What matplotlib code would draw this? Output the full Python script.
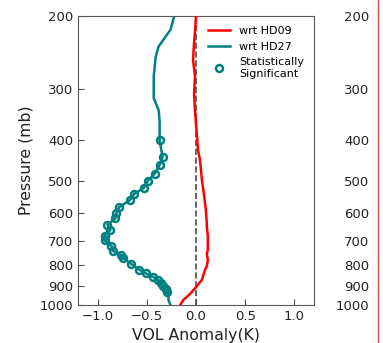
import numpy as np
import matplotlib
matplotlib.use('Agg')
import matplotlib.pyplot as plt
from matplotlib.lines import Line2D
from matplotlib.ticker import FixedLocator, NullLocator, FixedFormatter

# pressure levels (mb) and anomalies
hd09_p = [200, 218, 233, 255, 280, 310, 338, 365, 391, 421, 446, 470, 498,
          538, 589, 634, 646, 680, 708, 736, 750, 780, 805, 825, 869, 905,
          940, 973, 1000]
hd09 = [0.0, -0.01, -0.02, -0.03, -0.01, -0.02, -0.01, 0.0, 0.01, 0.02, 0.04,
        0.05, 0.06, 0.08, 0.10, 0.11, 0.11, 0.12, 0.12, 0.12, 0.11, 0.12, 0.11,
        0.09, 0.06, 0.0, -0.06, -0.13, -0.16]

hd27_p = [200, 216, 237, 251, 280, 316, 338, 359, 380, 400, 438, 459, 481,
          501, 521, 539, 557, 580, 600, 617, 640, 658, 681, 698, 720, 741,
          758, 770, 795, 821, 838, 854, 869, 886, 900, 916, 928, 950, 973, 1000]
hd27 = [-0.22, -0.26, -0.38, -0.41, -0.43, -0.43, -0.38, -0.37, -0.37, -0.37,
        -0.34, -0.37, -0.42, -0.49, -0.53, -0.63, -0.67, -0.78, -0.81, -0.82,
        -0.90, -0.87, -0.93, -0.93, -0.86, -0.84, -0.76, -0.74, -0.66, -0.58,
        -0.51, -0.44, -0.39, -0.36, -0.34, -0.31, -0.29, -0.28, -0.28, -0.26]
hd27_sig = [False] * 9 + [True] * 28 + [False] * 3

p_ticks = [200, 300, 400, 500, 600, 700, 800, 900, 1000]
x_ticks = [-1.0, -0.5, 0.0, 0.5, 1.0]

teal = '#008080'
W, H = 383, 343

fig = plt.figure(figsize=(W / 100, H / 100), dpi=100)
ax = fig.add_axes([78 / W, 1 - 305 / H, 236 / W, 289 / H])

ax.axvline(0, color='0.3', ls='--', lw=1.2, zorder=1)
ax.plot(hd09, hd09_p, color='red', lw=1.8, label='wrt HD09', zorder=3)
ax.plot(hd27, hd27_p, color=teal, lw=1.8, label='wrt HD27', zorder=2)
sig_x = [v for v, s in zip(hd27, hd27_sig) if s]
sig_p = [p for p, s in zip(hd27_p, hd27_sig) if s]
ax.plot(sig_x, sig_p, ls='none', marker='o', ms=5, mfc='none', mec=teal,
        mew=1.8, label='Statistically\nSignificant', zorder=2)

ax.set_yscale('log')
ax.set_ylim(1000, 200)
ax.set_xlim(-1.2, 1.2)
ax.yaxis.set_major_locator(FixedLocator(p_ticks))
ax.yaxis.set_major_formatter(FixedFormatter([str(p) for p in p_ticks]))
ax.yaxis.set_minor_locator(NullLocator())
ax.set_xticks(x_ticks)
ax.tick_params(direction='in', labelsize=9.5, length=4, colors='0.3',
               labelcolor='#222222')
for sp in ax.spines.values():
    sp.set_color('0.35')
ax.set_xlabel('VOL Anomaly(K)', fontsize=11.3, color='#222222')
ax.set_ylabel('Pressure (mb)', fontsize=11.3, color='#222222')
ax.legend(loc='upper right', frameon=False, fontsize=8)

# neighbouring panel's axis labels on the right edge
ax2 = fig.add_axes([374 / W, 1 - 305 / H, 0.01, 289 / H])
ax2.set_yscale('log')
ax2.set_ylim(1000, 200)
ax2.yaxis.set_major_locator(FixedLocator(p_ticks))
ax2.yaxis.set_major_formatter(FixedFormatter([str(p) for p in p_ticks]))
ax2.yaxis.set_minor_locator(NullLocator())
ax2.set_xticks([])
ax2.tick_params(length=0, labelsize=9.5, labelcolor='#222222')
for sp in ax2.spines.values():
    sp.set_visible(False)
ax2.patch.set_visible(False)

fig.add_artist(Line2D([378 / W, 378 / W], [0, 1], color='#e05050', lw=1,
                      transform=fig.transFigure))

fig.savefig('out.png', dpi=100)
